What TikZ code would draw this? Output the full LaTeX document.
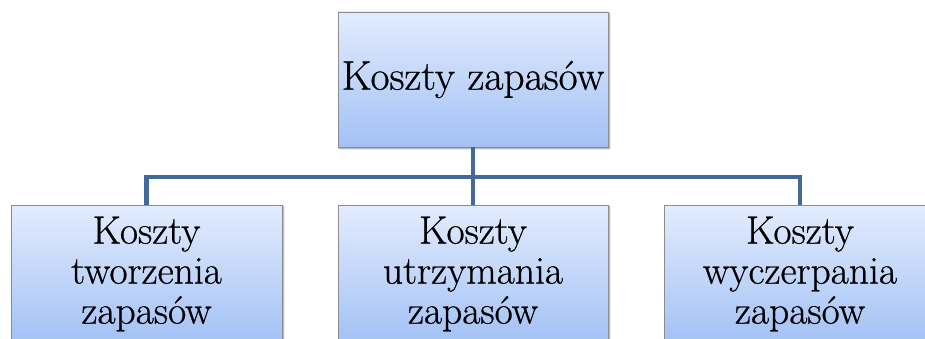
\documentclass[tikz,border=0pt]{standalone}
\usepackage{fontspec}
\newfontfamily\boxfont{Latin Modern Roman}[FakeBold=0.6]
\usetikzlibrary{shadows.blur}
\definecolor{boxtop}{RGB}{226,236,254}
\definecolor{boxbot}{RGB}{163,193,245}
\definecolor{boxline}{RGB}{140,140,140}
\definecolor{connc}{RGB}{65,105,154}
\begin{document}
\begin{tikzpicture}[x=1pt,y=1pt,
  box/.style={draw=boxline, line width=0.8pt, top color=boxtop, bottom color=boxbot,
    blur shadow={shadow xshift=1.5pt, shadow yshift=-1.5pt, shadow blur steps=4, shadow opacity=45},
    inner sep=0pt, align=center, font=\boxfont\fontsize{39.5}{40}\selectfont},
  conn/.style={draw=connc, line width=4.5pt}]
\useasboundingbox (0,0) rectangle (925,338);
\node[box, minimum width=270pt, minimum height=135pt, font=\boxfont\fontsize{41.5}{42}\selectfont] (top) at (473,258.5) {Koszty zapasów};
\node[box, minimum width=271pt, minimum height=138pt] (left) at (146.5,64) {Koszty\\tworzenia\\zapasów};
\node[box, minimum width=270pt, minimum height=138pt] (mid) at (473,64) {Koszty\\utrzymania\\zapasów};
\node[box, minimum width=271pt, minimum height=138pt] (right) at (800,64) {Koszty\\wyczerpania\\zapasów};
\coordinate (hub) at (473,161);
\draw[conn] (top.south) -- (mid.north);
\draw[conn] (left.north) |- (hub) -| (right.north);
\end{tikzpicture}
\end{document}
